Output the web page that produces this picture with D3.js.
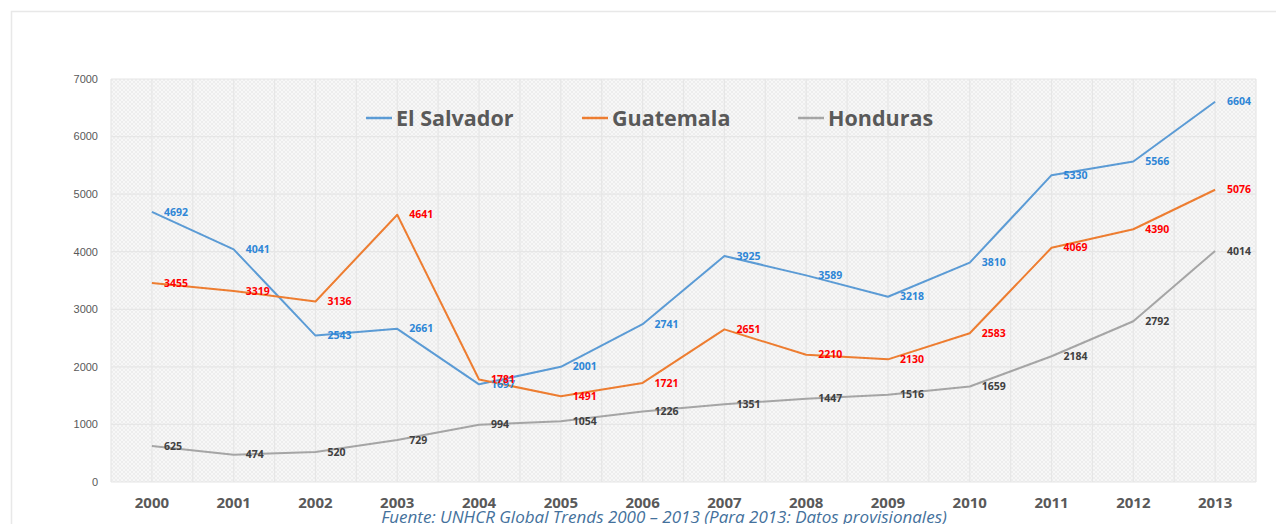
<!DOCTYPE html>
<html><head><meta charset="utf-8">
<script src="https://cdn.jsdelivr.net/npm/d3@7/dist/d3.min.js"></script>
<style>body{margin:0;background:#fff}svg{display:block}</style>
</head><body><svg id="c" width="1276" height="524"></svg>
<script>
const years = ["2000","2001","2002","2003","2004","2005","2006","2007","2008","2009","2010","2011","2012","2013"];
const elSalvador = [4692,4041,2543,2661,1697,2001,2741,3925,3589,3218,3810,5330,5566,6604];
const guatemala  = [3455,3319,3136,4641,1781,1491,1721,2651,2210,2130,2583,4069,4390,5076];
const honduras   = [625,474,520,729,994,1054,1226,1351,1447,1516,1659,2184,2792,4014];
const yTicks = [0,1000,2000,3000,4000,5000,6000,7000];
const seriesNames = ["El Salvador","Guatemala","Honduras"];
const sourceText = "Fuente: UNHCR Global Trends 2000 – 2013 (Para 2013: Datos provisionales)";

const series = [
  {name:seriesNames[0], values:elSalvador, line:"#5b9bd5", label:"#2e86d6"},
  {name:seriesNames[1], values:guatemala,  line:"#ed7d31", label:"#ff0000"},
  {name:seriesNames[2], values:honduras,   line:"#a5a5a5", label:"#404040"}
];

const svg = d3.select("#c");
const L=111, R=1256, T=79, B=482;
const x = d3.scaleBand().domain(years).range([L,R]);
const y = d3.scaleLinear().domain([0,7000]).range([B,T]);
const cx = d => x(d)+x.bandwidth()/2;

// outer border
svg.append("rect").attr("x",11.5).attr("y",11.5).attr("width",1290).attr("height",600)
  .attr("fill","none").attr("stroke","#e8e8e8").attr("stroke-width",1.5);

// pattern
const defs = svg.append("defs");
const pat = defs.append("pattern").attr("id","hatch").attr("width",4).attr("height",4).attr("patternUnits","userSpaceOnUse");
pat.append("rect").attr("width",4).attr("height",4).attr("fill","#f7f7f7");
pat.append("path").attr("d","M0,0L4,4M4,0L0,4").attr("stroke","#ebebeb").attr("stroke-width",0.8);

svg.append("rect").attr("x",L).attr("y",T).attr("width",R-L).attr("height",B-T).attr("fill","url(#hatch)");

// grid
const g = svg.append("g");
yTicks.forEach(t=>{
  g.append("line").attr("x1",L).attr("x2",R).attr("y1",y(t)).attr("y2",y(t)).attr("stroke","#e6e6e6").attr("stroke-width",1.2);
});
years.forEach(yr=>{
  [x(yr), cx(yr)].forEach(px=>{
    g.append("line").attr("x1",px).attr("x2",px).attr("y1",T).attr("y2",B).attr("stroke","#e6e6e6").attr("stroke-width",1.2);
  });
});
g.append("line").attr("x1",R).attr("x2",R).attr("y1",T).attr("y2",B).attr("stroke","#e6e6e6").attr("stroke-width",1.2);

// y axis labels
svg.append("g").selectAll("text").data(yTicks).join("text")
  .attr("x",98).attr("y",d=>y(d)).attr("dy","0.35em").attr("text-anchor","end")
  .attr("font-family","Liberation Sans, Arial").attr("font-size",11).attr("fill","#595959").text(d=>d);

// x axis labels
svg.append("g").selectAll("text").data(years).join("text")
  .attr("x",d=>cx(d)).attr("y",508).attr("text-anchor","middle")
  .attr("font-family","Open Sans, Liberation Sans").attr("font-weight","bold").attr("font-size",15).attr("fill","#595959").text(d=>d);

// lines
const line = d3.line().x((d,i)=>cx(years[i])).y(d=>y(d));
series.forEach(s=>{
  svg.append("path").attr("d",line(s.values)).attr("fill","none").attr("stroke",s.line).attr("stroke-width",2).attr("stroke-linejoin","round");
});
// labels
series.forEach(s=>{
  svg.append("g").selectAll("text").data(s.values).join("text")
    .attr("x",(d,i)=>cx(years[i])+12).attr("y",d=>y(d)).attr("dy","0.35em")
    .attr("font-family","Open Sans, Liberation Sans").attr("font-weight","bold").attr("font-size",10.5).attr("fill",s.label).text(d=>d);
});

// legend
const legX = [366,582,798];
series.forEach((s,i)=>{
  svg.append("line").attr("x1",legX[i]).attr("x2",legX[i]+26).attr("y1",118).attr("y2",118).attr("stroke",s.line).attr("stroke-width",2.5);
  svg.append("text").attr("x",legX[i]+30).attr("y",118).attr("dy","0.35em")
    .attr("font-family","Open Sans, Liberation Sans").attr("font-weight","bold").attr("font-size",21.5).attr("fill","#595959").text(s.name);
});

// source
svg.append("text").attr("x",664).attr("y",523).attr("text-anchor","middle")
  .attr("font-family","Open Sans, Liberation Sans").attr("font-style","italic").attr("font-size",17).attr("fill","#44719c").text(sourceText);
</script></body></html>
